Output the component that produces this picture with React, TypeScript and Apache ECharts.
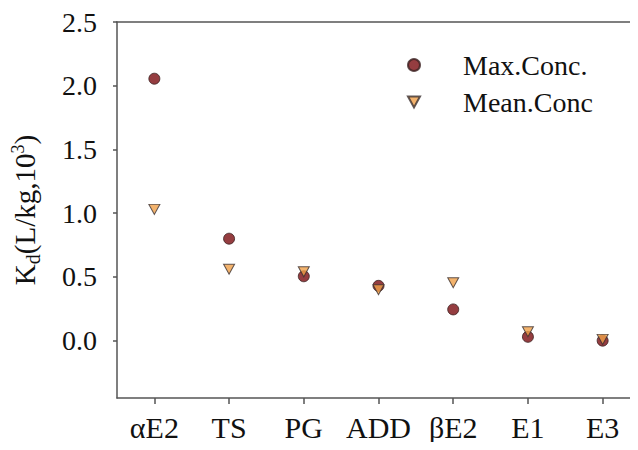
import React, { useEffect, useRef } from "react";
import * as echarts from "echarts";

const categories = ["αE2", "TS", "PG", "ADD", "βE2", "E1", "E3"];
const maxConc = [2.055, 0.8, 0.505, 0.43, 0.245, 0.03, 0.0];
const meanConc = [1.03, 0.56, 0.54, 0.4, 0.455, 0.07, 0.01];
const yTicks = [0, 0.5, 1.0, 1.5, 2.0, 2.5];
const yMin = -0.45;
const yMax = 2.5;
const seriesNames = ["Max.Conc.", "Mean.Conc"];

const FONT = "Liberation Serif";
const downTri = "path://M0,0L10,0L5,9Z";

export default function App() {
  const ref = useRef<HTMLDivElement>(null);
  useEffect(() => {
    if (!ref.current) return;
    const chart = echarts.init(ref.current, undefined, { renderer: "svg" });
    const axisLineStyle = { color: "#555", width: 1.5 };
    chart.setOption({
      animation: false,
      backgroundColor: "#fff",
      grid: {
        left: 117,
        right: -2,
        top: 22,
        bottom: 52,
        outerBoundsMode: "none",
        containLabel: false,
      },
      legend: {
        orient: "vertical",
        left: 402,
        top: 46,
        itemWidth: 12,
        itemHeight: 12,
        itemGap: 9,
        data: seriesNames,
        textStyle: {
          fontFamily: FONT,
          fontSize: 28,
          color: "#111",
          lineHeight: 28,
          padding: [0, 0, 0, 38],
        },
      },
      xAxis: {
        type: "category",
        data: categories,
        position: "bottom",
        axisLine: { show: true, onZero: false, lineStyle: axisLineStyle },
        axisTick: { show: true, alignWithLabel: true, length: 6, lineStyle: axisLineStyle },
        axisLabel: { interval: 0, fontFamily: FONT, fontSize: 30, color: "#111", margin: 14 },
        splitLine: { show: false },
      },
      yAxis: {
        type: "value",
        min: yMin,
        max: yMax,
        axisLine: { show: true, onZero: false, lineStyle: axisLineStyle },
        axisTick: { show: true, length: 4, lineStyle: axisLineStyle, customValues: yTicks },
        axisLabel: {
          fontFamily: FONT,
          fontSize: 28,
          color: "#111",
          margin: 20,
          customValues: yTicks,
          formatter: (v: number) => v.toFixed(1),
        },
        splitLine: { show: false },
        name: "{k|K}{sub|d}{n|(L/kg,10}{sup|3}{n|)}",
        nameLocation: "middle",
        nameGap: 78,
        nameRotate: 90,
        nameTextStyle: {
          fontFamily: FONT,
          color: "#111",
          rich: {
            k: { fontFamily: FONT, fontSize: 29, color: "#111", lineHeight: 32, verticalAlign: "bottom" },
            n: { fontFamily: FONT, fontSize: 29, color: "#111", lineHeight: 32, verticalAlign: "bottom" },
            sub: { fontFamily: FONT, fontSize: 20, color: "#111", lineHeight: 32, verticalAlign: "bottom", padding: [0, 0, -4, 0] },
            sup: { fontFamily: FONT, fontSize: 18, color: "#111", lineHeight: 32, verticalAlign: "top", padding: [2, 0, 0, 0] },
          },
        },
      },
      series: [
        {
          name: seriesNames[0],
          type: "scatter",
          data: maxConc,
          symbol: "circle",
          symbolSize: 11,
          itemStyle: { color: "#7a0c10", borderColor: "#3a2020", borderWidth: 1 },
        },
        {
          name: seriesNames[1],
          type: "scatter",
          data: meanConc,
          symbol: downTri,
          symbolSize: [11, 10],
          itemStyle: { color: "#f0a048", borderColor: "#3a3030", borderWidth: 1 },
        },
      ],
    });
    // top frame line, positioned from the chart's own scales
    const topLeft = chart.convertToPixel({ xAxisIndex: 0, yAxisIndex: 0 }, [0, yMax]) as number[];
    const yPx = Array.isArray(topLeft) ? topLeft[1] : 22;
    chart.setOption({
      graphic: [
        {
          type: "line",
          z: 100,
          shape: { x1: 116.25, y1: yPx, x2: 640, y2: yPx },
          style: { stroke: "#555", lineWidth: 1.5 },
        },
      ],
    });
    return () => chart.dispose();
  }, []);
  return <div ref={ref} style={{ width: 638, height: 450, margin: -8 }} />;
}
